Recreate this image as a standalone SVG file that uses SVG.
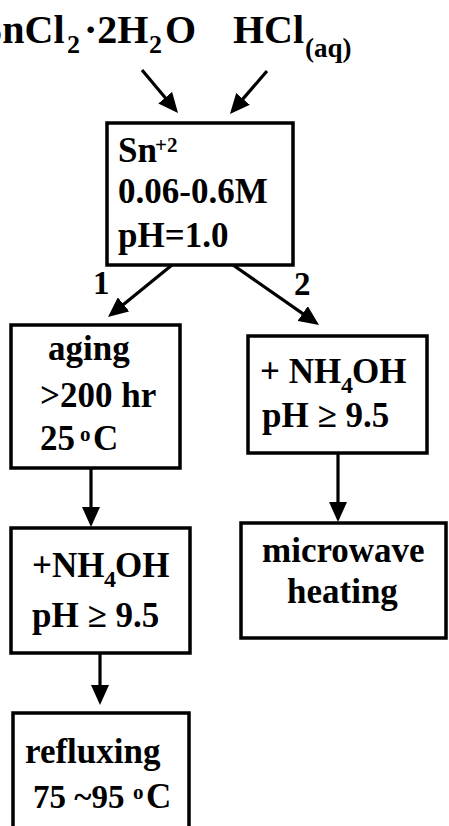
<svg xmlns="http://www.w3.org/2000/svg" width="449" height="826" viewBox="0 0 449 826">
<style>
text{font-family:"Liberation Serif","Times New Roman",serif;font-weight:bold;fill:#000;font-size:35px}
.box{fill:#fff;stroke:#000;stroke-width:3.5}
.conn{stroke:#000;stroke-width:3.2;fill:none;marker-end:url(#ah)}
.sub{font-size:24px}
.sup{font-size:21px}
</style>
<defs>
<marker id="ah" viewBox="0 0 20 18" refX="8" refY="9" markerWidth="20" markerHeight="18" markerUnits="userSpaceOnUse" orient="auto">
<path d="M0,0 L20,9 L0,18 z" fill="#000"/>
</marker>
</defs>
<rect width="449" height="826" fill="#fff"/>
<g id="reagents">
<text style="font-size:40px"><tspan x="-20" y="43">SnCl</tspan><tspan style="font-size:26px" x="67" y="53">2</tspan><tspan x="84" y="43">·2H</tspan><tspan style="font-size:26px" x="149" y="53">2</tspan><tspan x="165" y="43">O</tspan><tspan x="233" y="43">HCl</tspan><tspan style="font-size:27px" x="305" y="57">(aq)</tspan></text>
</g>
<g id="n-sn">
<rect class="box" x="107" y="123" width="186" height="142"/>
<text><tspan x="118" y="162">Sn</tspan><tspan class="sup" x="155" y="152">+2</tspan></text>
<text x="118" y="203">0.06-0.6M</text>
<text x="118" y="247">pH=1.0</text>
</g>
<g id="n-aging">
<rect class="box" x="11" y="325" width="169" height="143"/>
<text x="48" y="360">aging</text>
<text x="40" y="407">&gt;200 hr</text>
<text><tspan x="40" y="450">25</tspan><tspan class="sup" x="80" y="441">o</tspan><tspan x="93" y="450">C</tspan></text>
</g>
<g id="n-nh4oh-2">
<rect class="box" x="248" y="336" width="179" height="117"/>
<text><tspan x="260" y="383">+ NH</tspan><tspan class="sub" x="341" y="393">4</tspan><tspan x="352" y="383">OH</tspan></text>
<text x="262" y="427">pH ≥ 9.5</text>
</g>
<g id="n-nh4oh-1">
<rect class="box" x="11" y="528" width="179" height="125"/>
<text><tspan x="32" y="577">+NH</tspan><tspan class="sub" x="104" y="587">4</tspan><tspan x="115" y="577">OH</tspan></text>
<text x="32" y="627">pH ≥ 9.5</text>
</g>
<g id="n-microwave">
<rect class="box" x="241" y="523" width="205" height="115"/>
<text x="262" y="562">microwave</text>
<text x="287" y="603">heating</text>
</g>
<g id="n-refluxing">
<rect class="box" x="13" y="713" width="176" height="140"/>
<text x="25" y="763">refluxing</text>
<text><tspan x="33" y="808" style="font-size:33px">75 ~95</tspan><tspan class="sup" x="133" y="799">o</tspan><tspan x="146" y="808">C</tspan></text>
</g>
<g id="connectors">
<line class="conn" x1="142" y1="70" x2="170.3" y2="103.8"/>
<line class="conn" x1="267" y1="71" x2="237.8" y2="104.9"/>
<line class="conn" x1="172" y1="265" x2="117.3" y2="309.4"/>
<line class="conn" x1="233" y1="265" x2="309.2" y2="318.1"/>
<line class="conn" x1="91" y1="469" x2="91" y2="515"/>
<line class="conn" x1="338" y1="453" x2="338" y2="510"/>
<line class="conn" x1="100" y1="653" x2="100" y2="693"/>
<text x="93" y="294" style="font-size:33px">1</text>
<text x="294" y="295" style="font-size:33px">2</text>
</g>
</svg>
